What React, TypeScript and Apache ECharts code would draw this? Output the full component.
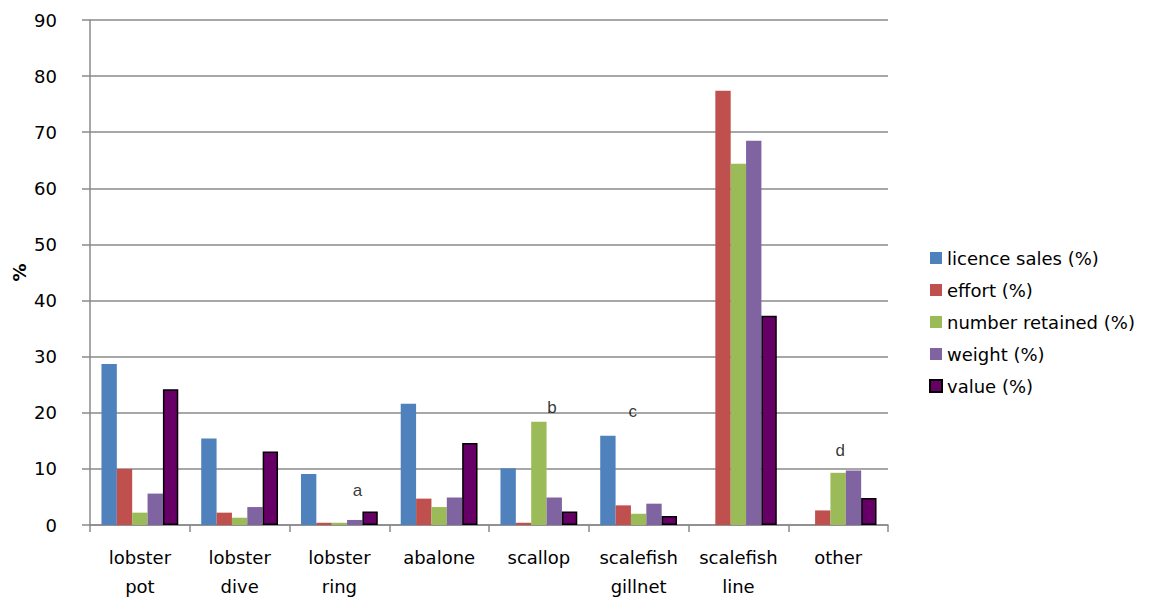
import React, { useEffect, useRef } from "react";
import * as echarts from "echarts";

// Fishery categories along the x axis
const categories = [
  "lobster\npot",
  "lobster\ndive",
  "lobster\nring",
  "abalone",
  "scallop",
  "scalefish\ngillnet",
  "scalefish\nline",
  "other",
];

// Share of each measure per fishery (%)
const licenceSales = [28.7, 15.4, 9.1, 21.6, 10.1, 15.9, 0, 0];
const effort = [10.0, 2.2, 0.4, 4.7, 0.4, 3.5, 77.4, 2.6];
const numberRetained = [2.2, 1.3, 0.4, 3.2, 18.4, 2.0, 64.4, 9.3];
const weight = [5.6, 3.2, 0.9, 4.9, 4.9, 3.8, 68.5, 9.7];
const valueShare = [24.2, 13.1, 2.4, 14.6, 2.4, 1.6, 37.3, 4.8];

const seriesNames = [
  "licence sales (%)",
  "effort (%)",
  "number retained (%)",
  "weight (%)",
  "value (%)",
];
const seriesColors = ["#4F81BD", "#C0504D", "#9BBB59", "#8064A2", "#660066"];

// Y axis scale
const yMin = 0;
const yMax = 90;
const yStep = 10;

// Footnote letters placed above some fisheries
const noteLetters = ["a", "b", "c", "d"];
const noteCategories = ["lobster\nring", "scallop", "scalefish\ngillnet", "other"];
const noteLevels = [6.2, 20.9, 20.3, 13.2];
const noteShift = [18, 13, -6, 2];

const FONT = "'DejaVu Sans', sans-serif";
const GREY = "#8a8a8a";

export default function App() {
  const ref = useRef<HTMLDivElement>(null);

  useEffect(() => {
    if (!ref.current) return;
    const chart = echarts.init(ref.current, null, { renderer: "svg" });

    const seriesData = [licenceSales, effort, numberRetained, weight, valueShare];

    const barSeries = seriesData.map((data, i) => ({
      name: seriesNames[i],
      type: "bar",
      data,
      barGap: "0%",
      barCategoryGap: "23%",
      itemStyle:
        i === 4
          ? { color: seriesColors[i], borderColor: "#000", borderWidth: 1.5 }
          : { color: seriesColors[i] },
    }));

    const notes = {
      name: "notes",
      type: "scatter",
      symbolSize: 1,
      itemStyle: { color: "rgba(0,0,0,0)" },
      silent: true,
      data: noteLetters.map((letter, i) => ({
        name: letter,
        value: [noteCategories[i], noteLevels[i]],
        label: { offset: [noteShift[i], 0] },
      })),
      label: {
        show: true,
        position: "inside",
        formatter: (p: any) => p.name,
        color: "#000",
        fontFamily: "'Liberation Sans', Arial, sans-serif",
        fontSize: 17,
      },
    };

    chart.setOption({
      animation: false,
      backgroundColor: "#fff",
      textStyle: { fontFamily: FONT },
      grid: {
        left: 90,
        top: 20,
        right: 272,
        bottom: 72,
        containLabel: false,
        outerBoundsMode: "none",
      },
      legend: {
        orient: "vertical",
        left: 929,
        top: 248,
        padding: 0,
        data: seriesNames,
        icon: "rect",
        itemWidth: 12,
        itemHeight: 12,
        itemGap: 12,
        textStyle: {
          fontFamily: FONT,
          fontSize: 18,
          color: "#000",
          lineHeight: 20,
        },
      },
      xAxis: {
        type: "category",
        data: categories,
        axisLine: { show: true, lineStyle: { color: GREY, width: 1.5 } },
        axisTick: {
          show: true,
          alignWithLabel: false,
          length: 7,
          lineStyle: { color: GREY, width: 1.5 },
        },
        axisLabel: {
          interval: 0,
          margin: 18,
          fontFamily: FONT,
          fontSize: 18,
          color: "#000",
          lineHeight: 29,
        },
      },
      yAxis: {
        type: "value",
        min: yMin,
        max: yMax,
        interval: yStep,
        name: "%",
        nameLocation: "middle",
        nameGap: 62,
        nameRotate: 90,
        nameMoveOverlap: false,
        nameTextStyle: {
          fontFamily: FONT,
          fontSize: 18,
          fontWeight: "bold",
          color: "#000",
        },
        axisLine: { show: true, lineStyle: { color: GREY, width: 1.5 } },
        axisTick: { show: true, length: 8, lineStyle: { color: GREY, width: 1.5 } },
        axisLabel: {
          margin: 33,
          fontFamily: FONT,
          fontSize: 18,
          color: "#000",
        },
        splitLine: { show: true, lineStyle: { color: GREY, width: 1.5 } },
      },
      series: [...barSeries, notes],
    });

    return () => chart.dispose();
  }, []);

  return (
    <div
      ref={ref}
      style={{ position: "fixed", left: 0, top: 0, width: 1160, height: 597 }}
    />
  );
}
